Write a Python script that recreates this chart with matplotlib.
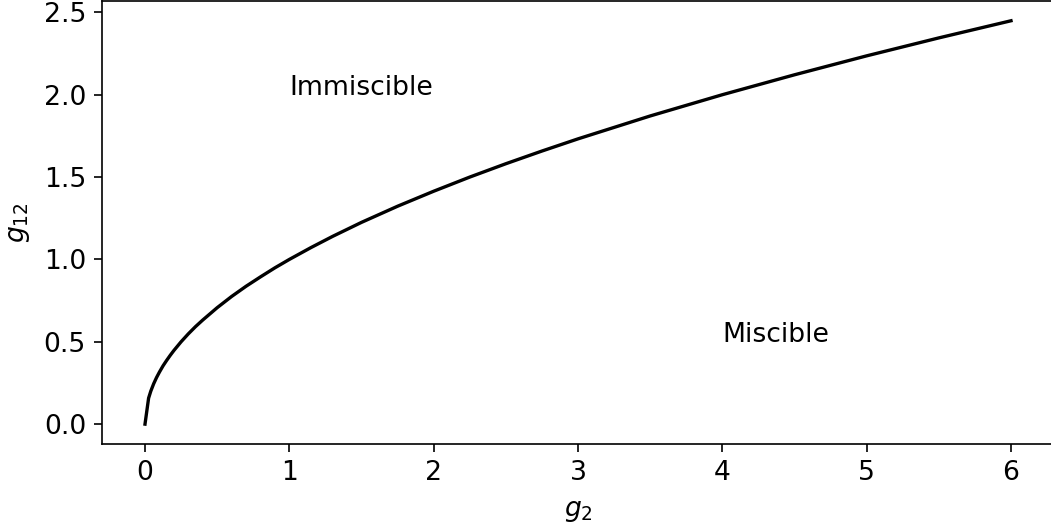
import matplotlib
matplotlib.use('Agg')
import matplotlib.pyplot as plt

plt.rcParams['font.size'] = 12.8
plt.rcParams['xtick.major.size'] = 4
plt.rcParams['ytick.major.size'] = 4

# phase boundary g12 vs g2
g2 = [0.0, 0.025, 0.04, 0.06, 0.08, 0.1, 0.125, 0.15, 0.175, 0.2, 0.25, 0.3,
      0.35, 0.4, 0.5, 0.6, 0.7, 0.8, 0.9, 1.0, 1.15, 1.3, 1.5, 1.75, 2.0, 2.25,
      2.5, 2.75, 3.0, 3.5, 4.0, 4.5, 5.0, 5.5, 6.0]
g12 = [0.0, 0.158, 0.200, 0.245, 0.283, 0.316, 0.354, 0.387, 0.418, 0.447,
       0.500, 0.548, 0.592, 0.632, 0.707, 0.775, 0.837, 0.894, 0.949, 1.0,
       1.072, 1.140, 1.225, 1.323, 1.414, 1.500, 1.581, 1.658, 1.732, 1.871,
       2.0, 2.121, 2.236, 2.345, 2.449]

W, H = 1051, 532
fig = plt.figure(figsize=(W / 150, H / 150), dpi=150)
ax = fig.add_axes([101.7 / W, (H - 444.3) / H, 952.6 / W, 443.7 / H])

ax.plot(g2, g12, color='black', linewidth=1.6)
ax.text(1, 2, 'Immiscible')
ax.text(4, 0.5, 'Miscible')
ax.set_xlabel('$g_2$', labelpad=6)
ax.set_ylabel('$g_{12}$', labelpad=5.5)

plt.savefig('out.png', dpi=150)
